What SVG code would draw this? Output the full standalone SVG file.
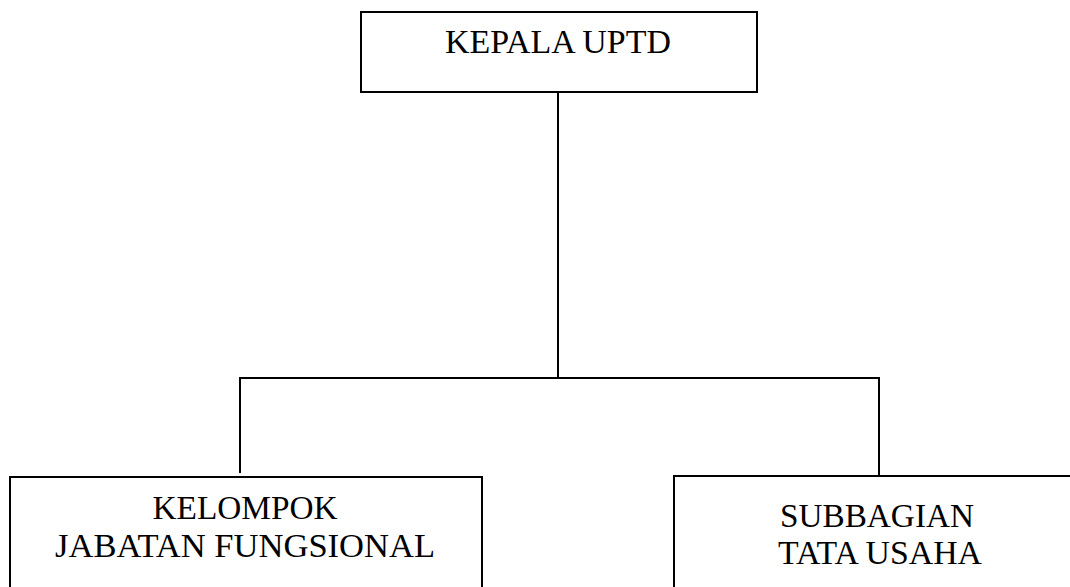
<svg xmlns="http://www.w3.org/2000/svg" width="1070" height="587" viewBox="0 0 1070 587">
<style>
.box{fill:#fff;stroke:#000;stroke-width:2}
.ln{stroke:#000;stroke-width:2;fill:none}
text{font-family:"Liberation Serif","Times New Roman",serif;font-size:33.5px;fill:#000;text-anchor:middle}
</style>
<rect width="1070" height="587" fill="#fff"/>
<g id="connectors">
<line class="ln" x1="558" y1="92" x2="558" y2="378"/>
<line class="ln" x1="239" y1="378" x2="880" y2="378"/>
<line class="ln" x1="240" y1="377" x2="240" y2="473"/>
<line class="ln" x1="879" y1="377" x2="879" y2="476"/>
</g>
<g id="kepala">
<rect class="box" x="361" y="12" width="396" height="80"/>
<text x="558" y="53" textLength="226" lengthAdjust="spacingAndGlyphs">KEPALA UPTD</text>
</g>
<g id="kelompok">
<rect class="box" x="10" y="477" width="472" height="130"/>
<text x="245" y="519" textLength="185" lengthAdjust="spacingAndGlyphs">KELOMPOK</text>
<text x="245" y="557" textLength="380" lengthAdjust="spacingAndGlyphs">JABATAN FUNGSIONAL</text>
</g>
<g id="subbagian">
<rect class="box" x="674" y="476" width="420" height="130"/>
<text x="877" y="527" textLength="194" lengthAdjust="spacingAndGlyphs">SUBBAGIAN</text>
<text x="880" y="564" textLength="204" lengthAdjust="spacingAndGlyphs">TATA USAHA</text>
</g>
</svg>
